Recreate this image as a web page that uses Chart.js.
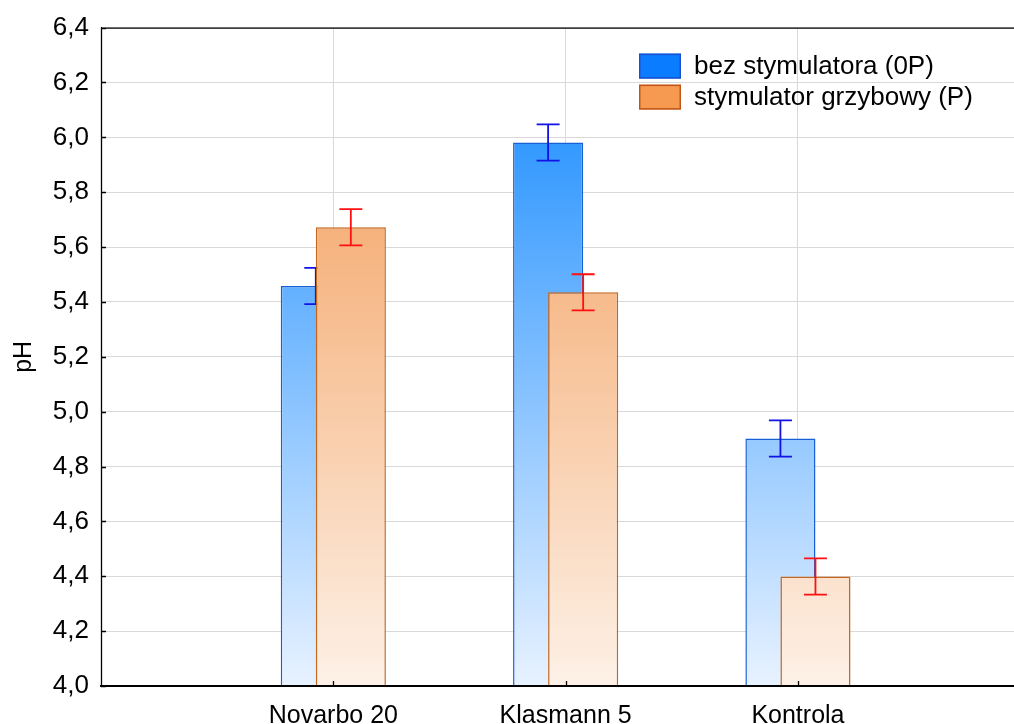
<!DOCTYPE html>
<html>
<head>
<meta charset="utf-8">
<script src="https://cdn.jsdelivr.net/npm/chart.js@4/dist/chart.umd.min.js"></script>
<style>
  html, body { margin: 0; padding: 0; background: #fff; }
  #wrap { width: 1014px; height: 724px; }
</style>
</head>
<body>
<div id="wrap"><canvas id="phChart" width="1014" height="724"></canvas></div>
<script>
// Średnie pH podłoży z błędem standardowym
const categories = ['Novarbo 20', 'Klasmann 5', 'Kontrola'];
const seriesNames = ['bez stymulatora (0P)', 'stymulator grzybowy (P)'];
const phBez = [5.458, 5.981, 4.902];
const phStym = [5.672, 5.435, 4.399];
const errBez = [0.066, 0.066, 0.066];
const errStym = [0.066, 0.066, 0.066];
const yTicks = [4.0, 4.2, 4.4, 4.6, 4.8, 5.0, 5.2, 5.4, 5.6, 5.8, 6.0, 6.2, 6.4];

const FONT = "'Liberation Sans', Arial, sans-serif";
Chart.defaults.font.family = FONT;
Chart.defaults.color = '#000';

// kolory: góra / dół gradientu, obramowanie, wąsy błędu, pole legendy
const styles = [
    { top: 'rgb(13,134,255)', bottom: 'rgb(232,242,255)', border: '#1760d8', err: '#1212e6', box: '#0a7cff', boxBorder: '#1a50d0' },
    { top: 'rgb(242,150,78)', bottom: 'rgb(253,241,231)', border: '#c4661e', err: '#ff1010', box: '#f59a50', boxBorder: '#c0561a' }
];

// gradient liczony względem całego obszaru wykresu, nie pojedynczego słupka
function barFill(idx) {
    return function(context) {
        const area = context.chart.chartArea;
        if (!area) return styles[idx].top;
        const g = context.chart.ctx.createLinearGradient(0, area.top, 0, area.bottom);
        g.addColorStop(0, styles[idx].top);
        g.addColorStop(1, styles[idx].bottom);
        return g;
    };
}

const errors = [errBez, errStym];

function drawErrorBars(chart, i) {
    const ctx = chart.ctx;
    const y = chart.scales.y;
    const meta = chart.getDatasetMeta(i);
    const vals = chart.data.datasets[i].data;
    ctx.save();
    ctx.strokeStyle = styles[i].err;
    ctx.lineWidth = 1.8;
    meta.data.forEach((bar, j) => {
        const v = vals[j].y;
        const yTop = y.getPixelForValue(v + errors[i][j]);
        const yBot = y.getPixelForValue(v - errors[i][j]);
        const w = 11.5;
        ctx.beginPath();
        ctx.moveTo(bar.x, yTop); ctx.lineTo(bar.x, yBot);
        ctx.moveTo(bar.x - w, yTop); ctx.lineTo(bar.x + w, yTop);
        ctx.moveTo(bar.x - w, yBot); ctx.lineTo(bar.x + w, yBot);
        ctx.stroke();
    });
    ctx.restore();
}

// słupki rysowane w kolejności serii, żeby druga seria zachodziła na pierwszą
const seriesOrder = {
    id: 'seriesOrder',
    beforeDatasetsDraw(chart) {
        const ctx = chart.ctx;
        const a = chart.chartArea;
        chart.data.datasets.forEach((ds, i) => {
            const meta = chart.getDatasetMeta(i);
            if (!meta.visible) return;
            ctx.save();
            ctx.beginPath();
            ctx.rect(a.left, a.top, a.right - a.left, a.bottom - a.top);
            ctx.clip();
            meta.controller.draw();
            ctx.restore();
            drawErrorBars(chart, i);
        });
        return false;
    }
};

// ramka, znaczniki osi do środka i legenda w prawym górnym rogu
const frame = {
    id: 'frame',
    afterDraw(chart) {
        const ctx = chart.ctx;
        const a = chart.chartArea;
        const x = chart.scales.x, y = chart.scales.y;
        ctx.save();
        ctx.strokeStyle = '#000';
        ctx.lineWidth = 1.3;
        ctx.beginPath();
        ctx.moveTo(a.left, a.top + 0.5); ctx.lineTo(a.right, a.top + 0.5);
        ctx.moveTo(a.left + 0.5, a.top); ctx.lineTo(a.left + 0.5, a.bottom);
        yTicks.forEach(t => {
            const py = Math.round(y.getPixelForValue(t)) + 0.5;
            ctx.moveTo(a.left, py); ctx.lineTo(a.left + 5, py);
        });
        categories.forEach((c, i) => {
            const px = Math.round(x.getPixelForValue(i + 1)) + 0.5;
            ctx.moveTo(px, a.bottom); ctx.lineTo(px, a.bottom - 5);
        });
        ctx.stroke();
        ctx.lineWidth = 2;
        ctx.beginPath();
        ctx.moveTo(a.left, a.bottom); ctx.lineTo(a.right, a.bottom);
        ctx.stroke();

        // legenda
        const lx = a.right - 375, ly = a.top + 26;
        ctx.font = '26px ' + FONT;
        ctx.textBaseline = 'middle';
        ctx.textAlign = 'left';
        seriesNames.forEach((name, i) => {
            const by = ly + i * 31;
            ctx.fillStyle = styles[i].box;
            ctx.fillRect(lx, by, 42, 25);
            ctx.strokeStyle = styles[i].boxBorder;
            ctx.lineWidth = 1.5;
            ctx.strokeRect(lx + 0.75, by + 0.75, 40.5, 23.5);
            ctx.fillStyle = '#000';
            ctx.fillText(name, lx + 55, by + 13);
        });
        ctx.restore();
    }
};

const datasets = [phBez, phStym].map((vals, i) => ({
    label: seriesNames[i],
    data: vals.map((v, j) => ({ x: j + 1, y: v })),
    backgroundColor: barFill(i),
    borderColor: styles[i].border,
    borderWidth: 1.5,
    borderSkipped: 'start',
    categoryPercentage: 0.3017,
    barPercentage: 2
}));

const ctx = document.getElementById('phChart').getContext('2d');
const phChart = new Chart(ctx, {
    type: 'bar',
    data: { datasets: datasets },
    plugins: [seriesOrder, frame],
    options: {
        responsive: false,
        animation: false,
        layout: { padding: { top: 26, right: 0, left: 0, bottom: 0 } },
        plugins: {
            legend: { display: false },
            tooltip: { enabled: false }
        },
        scales: {
            x: {
                type: 'linear',
                offset: false,
                min: 0,
                max: 3.93,
                afterBuildTicks: s => { s.ticks = categories.map((c, i) => ({ value: i + 1 })); },
                ticks: {
                    callback: v => categories[v - 1] || '',
                    font: { size: 25 },
                    color: '#000',
                    padding: 15,
                    maxRotation: 0,
                    autoSkip: false
                },
                grid: { color: '#d9d9d9', drawTicks: false, offset: false },
                border: { color: '#000', width: 2 },
                afterFit: s => { s.height = 38; }
            },
            y: {
                min: 4,
                max: 6.4,
                afterBuildTicks: s => { s.ticks = yTicks.map(v => ({ value: v })); },
                ticks: {
                    callback: v => v.toFixed(1).replace('.', ','),
                    font: { size: 26 },
                    color: '#000',
                    padding: 12
                },
                grid: { color: '#d9d9d9', drawTicks: false },
                border: { color: '#000', width: 1 },
                title: {
                    display: true,
                    text: 'pH',
                    font: { size: 25 },
                    color: '#000',
                    padding: { top: 9, bottom: 0 }
                },
                afterFit: s => { s.width = 101; }
            }
        }
    }
});
</script>
</body>
</html>
